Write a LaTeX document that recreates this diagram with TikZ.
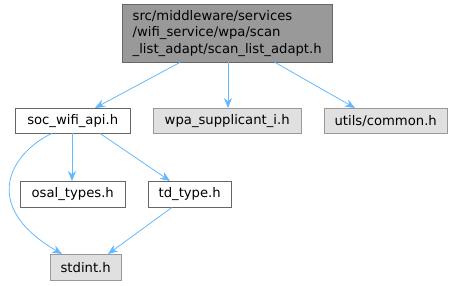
\documentclass[tikz,border=0pt]{standalone}
\usepackage{fontspec}
\setmainfont{DejaVu Sans}
\usetikzlibrary{arrows.meta}
\definecolor{edgeblue}{HTML}{63B8FF}
\definecolor{topfill}{HTML}{999999}
\definecolor{topline}{HTML}{666666}
\definecolor{extfill}{HTML}{E0E0E0}
\definecolor{extline}{HTML}{999999}

\begin{document}
\begin{tikzpicture}[x=1pt,y=-1pt,>={Stealth[length=10pt,width=8pt]},
  file/.style={draw=topline, fill=white, font=\fontsize{13.2}{16.5}\selectfont, inner sep=0pt, anchor=north west},
  extfile/.style={file, draw=extline, fill=extfill},
  inc/.style={->, draw=edgeblue, line width=0.8pt}]
\useasboundingbox (0,0) rectangle (453,285);
\node[file, fill=topfill, minimum width=210pt, minimum height=58pt, align=left] (top) at (122,4)
  {src/middleware/services\\/wifi\_service/wpa/scan\\\_list\_adapt/scan\_list\_adapt.h};
\node[file, minimum width=115pt, minimum height=25pt] (soc) at (15,108) {soc\_wifi\_api.h};
\node[extfile, minimum width=148pt, minimum height=25pt] (wpa) at (153,108) {wpa\_supplicant\_i.h};
\node[extfile, minimum width=123pt, minimum height=25pt] (common) at (324,108) {utils/common.h};
\node[file, minimum width=105pt, minimum height=26pt] (osal) at (20,181) {osal\_types.h};
\node[file, minimum width=83pt, minimum height=26pt] (td) at (148,181) {td\_type.h};
\node[extfile, minimum width=71pt, minimum height=26pt] (stdint) at (50,254) {stdint.h};
% includes of the top file
\draw[inc] (top.south -| 180,0) -- (soc.north -| 95,0);
\draw[inc] (top.south -| 228,0) -- (wpa.north -| 228,0);
\draw[inc] (top.south -| 275,0) -- (common.north -| 355,0);
% includes of soc_wifi_api.h
\draw[inc] (soc.south -| 52,0) .. controls (12,152) and (-22,205) .. (stdint.north -| 62,0);
\draw[inc] (soc.south -| 72,0) -- (osal.north -| 72,0);
\draw[inc] (soc.south -| 100,0) -- (td.north -| 170,0);
\draw[inc] (td.south -| 172,0) -- (stdint.north -| 108,0);
\end{tikzpicture}
\end{document}
